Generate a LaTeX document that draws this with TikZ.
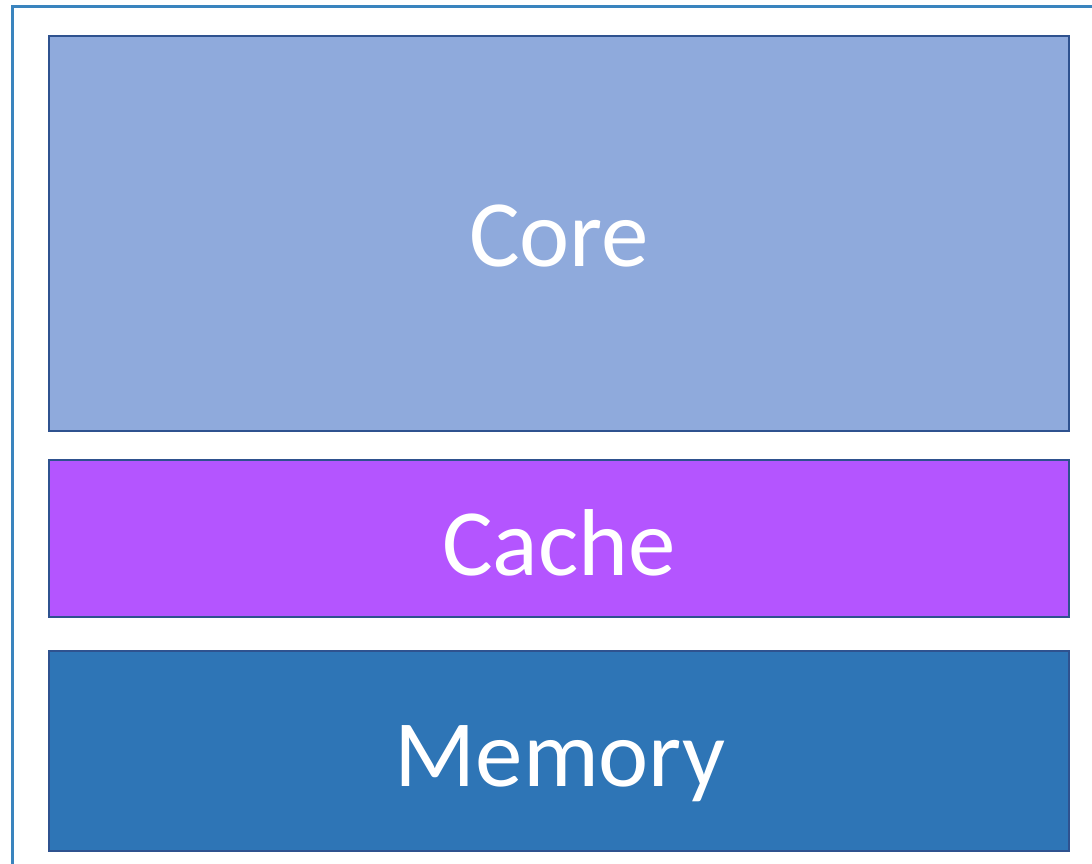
\documentclass[tikz,border=0pt]{standalone}
\usepackage{fontspec}
\setmainfont{Carlito}
\definecolor{framec}{HTML}{3A84BE}
\definecolor{edgec}{HTML}{2F528F}
\definecolor{corec}{HTML}{8FAADC}
\definecolor{cachec}{HTML}{B455FF}
\definecolor{memc}{HTML}{2E75B6}
\tikzset{
  layer/.style={draw=edgec, line width=2.5pt, rectangle, inner sep=0pt, outer sep=0pt, anchor=north west, minimum width=1020pt},
  label/.style={text=white, font=\fontsize{95}{100}\selectfont, anchor=base, inner sep=0pt}
}
\begin{document}
\begin{tikzpicture}[x=1pt,y=-1pt]
\useasboundingbox (0,0) rectangle (1092,863);
\begin{scope}
\clip (0,0) rectangle (1092,863);
\draw[framec, line width=2.5pt] (12.5,6.5) rectangle (1110,880);
\end{scope}
\node[layer, fill=corec, minimum height=395pt] (core) at (49,36) {};
\node[layer, fill=cachec, minimum height=157pt] (cache) at (49,460) {};
\node[layer, fill=memc, minimum height=200pt] (mem) at (49,651) {};
\node[label] (coret) at (559,266) {Core};
\node[label] (cachet) at (559,575) {Cache};
\node[label] (memt) at (560,786) {Memory};
\end{tikzpicture}
\end{document}
